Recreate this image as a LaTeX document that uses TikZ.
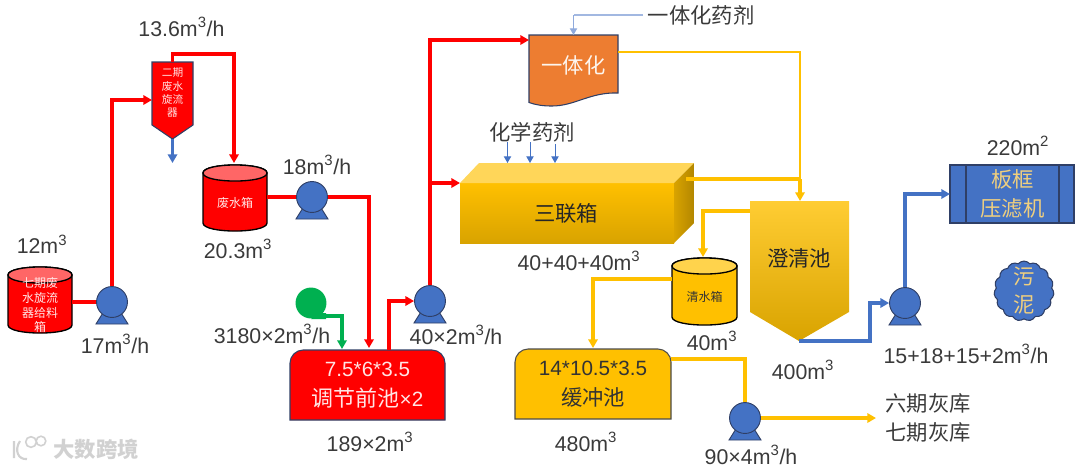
\documentclass[tikz,border=0pt]{standalone}
\usepackage{fontspec}
\setmainfont{Liberation Sans}
\newfontfamily\cjkf{Noto Sans CJK SC}
\usetikzlibrary{arrows.meta,shapes.symbols}
\definecolor{rd}{HTML}{FF0000}
\definecolor{ye}{HTML}{FFC000}
\definecolor{bl}{HTML}{4472C4}
\definecolor{dk}{HTML}{2F3F66}
\definecolor{gr}{HTML}{00B050}
\definecolor{og}{HTML}{ED7D31}
\definecolor{txt}{HTML}{3A3A3A}
\definecolor{lyel}{HTML}{EFCF7F}
\newcommand{\mcube}[1]{m\textsuperscript{#1}}
\newcommand{\Tank}[9]{%
 \path[fill=#6,draw=black,line width=1pt] (#2,#3+8) -- (#2,#5-8) .. controls (#2,#5+2.7) and (#4,#5+2.7) .. (#4,#5-8) -- (#4,#3+8) .. controls (#4,#3-2.7) and (#2,#3-2.7) .. (#2,#3+8) -- cycle;
 \path[fill=#7,draw=black,line width=1pt] (#2,#3+8) .. controls (#2,#3+18.7) and (#4,#3+18.7) .. (#4,#3+8) .. controls (#4,#3-2.7) and (#2,#3-2.7) .. (#2,#3+8) -- cycle;
 \node[lbl,text=#8,align=center,font=\cjkf\fontsize{9}{11.2}\selectfont,minimum width={(#4-#2)*.75pt},minimum height={(#5-#3)*.75pt},inner sep=0pt] (#1) at ({(#2+#4)/2},{(#3+#5)/2+5}) {#9};}
\newcommand{\Pump}[3]{%
 \path[fill=bl,draw=dk,line width=.7pt] (#2-6,#3+6) -- (#2-16,#3+22) -- (#2+16,#3+22) -- (#2+6,#3+6) -- cycle;
 \node[pumpc] (#1) at (#2,#3) {};}
\newcommand{\Pool}[5]{% x1 y1 x2 y2 style
 \path[#5] (#1,#4) -- (#1,#2+13) .. controls (#1,#2+6) and (#1+6,#2) .. (#1+13,#2) -- (#3-13,#2) .. controls (#3-6,#2) and (#3,#2+6) .. (#3,#2+13) -- (#3,#4) -- cycle;}
\tikzset{
 x=.75pt,y=-.75pt,
 lbl/.style={inner sep=0pt,text=txt,font=\fontsize{16}{20}\selectfont},
 pumpc/.style={circle,fill=bl,draw=dk,line width=.7pt,minimum size=23.2pt,inner sep=0pt},
 redl/.style={draw=rd,line width=2.6pt},
 yell/.style={draw=ye,line width=2.3pt},
 blul/.style={draw=bl,line width=2.3pt},
 tip/.style={-{Triangle[length=6.5pt,width=7pt]}},
 thinb/.style={draw=bl,line width=.7pt,-{Triangle[length=5pt,width=5.5pt]}},
 zh/.style={lbl,font=\cjkf\fontsize{16}{22}\selectfont},
 wh/.style={lbl,text=white,align=center,font=\fontsize{15.5}{22}\selectfont},
}
\begin{document}
\begin{tikzpicture}
\useasboundingbox (0,0) rectangle (1080,469);
% coordinates used by connectors
\coordinate (j2) at (234,54);
\coordinate (t2T) at (234,163);
\coordinate (drain) at (172.5,163);
\coordinate (chem1) at (507.5,142);
\coordinate (chem1e) at (507.5,163);
\coordinate (chem2) at (530,142);
\coordinate (chem2e) at (530,163);
\coordinate (chem3) at (555,144);
\coordinate (chem3e) at (555,163);
\coordinate (destA) at (876,418);

% shapes
\Tank{t1}{8}{267}{72}{333}{rd}{rd!60!white}{white!90!rd}{七期废\\水旋流\\器给料\\箱}
\Tank{t2}{203}{165}{267}{231}{rd}{rd!60!white}{white!90!rd}{废水箱}
\Tank{t3}{672}{258}{737}{325}{ye}{ye!70!white}{black!80}{清水箱}

\Pump{p1}{112}{302}
\Pump{p2}{312}{197}
\Pump{p3}{430}{301}
\Pump{p4}{745}{418}
\Pump{p5}{905}{303}

% cyclone
\path[fill=rd,draw=dk,line width=.8pt] (152,62) -- (193,62) -- (193,125) -- (172.5,139) -- (152,125) -- cycle;
\node[lbl,text=white!90!rd,align=center,font=\cjkf\fontsize{8}{10}\selectfont,minimum width=30.75pt,minimum height=40pt] (cy) at (172.5,93) {二期\\废水\\旋流\\器};
\coordinate (cyW) at (152,100);
\coordinate (cyT) at (172.5,62);
\coordinate (cyB) at (172.5,139);

% blower
\node[circle,fill=gr,minimum size=23.2pt,inner sep=0pt] (fan) at (311,303) {};
\path[fill=gr] (311,319) -- (326,319) -- (326,313) -- (318,313) -- cycle;
\coordinate (fanO) at (326,316);

% pools
\Pool{290}{350}{445}{420}{fill=rd,draw=dk,line width=.8pt}
\node[wh,text=white!90!rd] (pool1) at (367.5,385) {7.5*6*3.5\\{\cjkf\fontsize{16.5}{22}\selectfont 调节前池}×2};
\Pool{515}{349}{671}{419}{fill=ye,draw=black!70,line width=.8pt}
\node[wh,text=black!80] (pool2) at (593,384) {14*10.5*3.5\\{\cjkf\fontsize{16}{22}\selectfont 缓冲池}};

% document
\path[fill=og,draw=dk,line width=.8pt] (529,35) -- (618,35) -- (618,93) .. controls (590,92) and (575,106) .. (552,106) .. controls (543,106) and (536,105) .. (529,102.5) -- cycle;
\node[wh,text=white!92!og,font=\cjkf\fontsize{16}{22}\selectfont] (doc) at (573.5,65) {一体化};
\coordinate (docW) at (529,40);
\coordinate (docT) at (573.5,35);
\coordinate (docE) at (618,52);

% triple box
\shade[top color=ye,bottom color=ye!85!black] (460,183) rectangle (674,243);
\fill[ye!65!white] (460,183) -- (479,163) -- (694,163) -- (674,183) -- cycle;
\shade[left color=ye!85!black,right color=ye!70!black] (674,183) -- (694,163) -- (694,223) -- (674,243) -- cycle;
\node[zh,text=black!85] (box) at (566,213) {三联箱};
\coordinate (boxW) at (460,183);
\coordinate (boxE) at (686,179);

% clarifier
\shade[top color=ye!80!white,middle color=ye,bottom color=ye!85!black] (750,201) -- (849,201) -- (849,312) -- (799,341) -- (750,312) -- cycle;
\node[zh,text=black!85] (cl) at (799,258) {澄清池};
\coordinate (clT) at (800,201);
\coordinate (clW) at (750,211);
\coordinate (clB) at (799,341);

% filter press
\path[fill=bl,draw=dk,line width=.8pt] (950,165) rectangle (1074,223);
\path[draw=dk,line width=.8pt] (966,165) -- (966,223) (1059,165) -- (1059,223);
\node[wh,text=lyel,font=\cjkf\fontsize{16}{22}\selectfont] (press) at (1012.5,194) {板框\\压滤机};

% cloud
\node[cloud,cloud puffs=15,cloud puff arc=100,aspect=1,fill=bl,draw=dk,line width=.8pt,minimum width=43pt,minimum height=40pt,inner sep=-3pt,text=lyel,align=center,font=\cjkf\fontsize{16}{21}\selectfont] (mud) at (1024,291) {污\\泥};

% connectors: red
\draw[redl] (t1.east|-p1) -- (p1);
\draw[redl,tip] (p1.north) |- (cyW);
\draw[redl,tip] (cyT) |- (j2) -- (t2T);
\draw[redl] (t2.east|-p2) -- (p2);
\draw[redl,tip] (p2.east) -| (369,348);
\draw[redl,tip] (389,350) |- (p3.west);
\draw[redl,tip] (p3.north) |- (docW);
\draw[redl,tip] (430,183) -- (boxW);
% green
\draw[draw=gr,line width=2.3pt,tip] (fanO) -| (342,349);
% blue
\draw[blul,tip] (cyB) -- (drain);
\draw[blul,tip] (clB) -- (870,341) |- (p5.west);
\draw[blul,tip] (p5.north) |- (950,194);
\draw[thinb] (chem1) -- (chem1e);
\draw[thinb] (chem2) -- (chem2e);
\draw[thinb] (chem3) -- (chem3e);
\draw[draw=bl!50!white,line width=.8pt] (643,15) -- (573.5,15);
\draw[thinb,draw=bl!60!white] (573.5,15) -- (docT);
% yellow
\draw[draw=ye,line width=1.3pt] (docE) -- (800,52) -- (800,180);
\draw[yell] (boxE) -- (800,179);
\draw[yell,tip] (800,179) -- (clT);
\draw[yell,tip] (clW) -- (703,211) -- (703,257);
\draw[yell,tip] (672,279) -- (593,279) -- (593,348);
\draw[yell] (671,359) -- (745,359) -- (p4.north);
\draw[yell,tip] (p4.east) -- (destA);

% labels
\node[lbl] (l1) at (181.5,27) {13.6\mcube{3}/h};
\node[lbl] (l2) at (42,244) {12\mcube{3}};
\node[lbl] (l3) at (115,344) {17\mcube{3}/h};
\node[lbl] (l4) at (317,165) {18\mcube{3}/h};
\node[lbl] (l5) at (238,249) {20.3\mcube{3}};
\node[lbl] (l6) at (272,334) {3180×2\mcube{3}/h};
\node[lbl] (l7) at (456,335) {40×2\mcube{3}/h};
\node[lbl] (l8) at (370,442) {189×2\mcube{3}};
\node[lbl] (l9) at (579,261) {40+40+40\mcube{3}};
\node[lbl] (l10) at (712,341) {40\mcube{3}};
\node[lbl] (l11) at (586,442) {480\mcube{3}};
\node[lbl] (l12) at (803,370) {400\mcube{3}};
\node[lbl] (l13) at (751,455) {90×4\mcube{3}/h};
\node[lbl] (l14) at (966,354) {15+18+15+2\mcube{3}/h};
\node[lbl] (l15) at (1018,146) {220\mcube{2}};
\node[zh] (l16) at (701,15) {一体化药剂};
\node[zh] (l17) at (532,132) {化学药剂};
\node[zh,align=center] (l18) at (928,418) {六期灰库\\七期灰库};

% watermark
\node[lbl,text=black!18,font=\cjkf\bfseries\fontsize{16}{20}\selectfont] (wm) at (96,449) {大数跨境};
\draw[black!18,line width=1.6pt] (14,441) -- (14,458) (20,441) .. controls (14,450) and (18,460) .. (27,459);
\draw[black!18,line width=1.2pt] (31,442) circle[radius=4pt] (41,441) circle[radius=3.6pt];
\end{tikzpicture}
\end{document}
